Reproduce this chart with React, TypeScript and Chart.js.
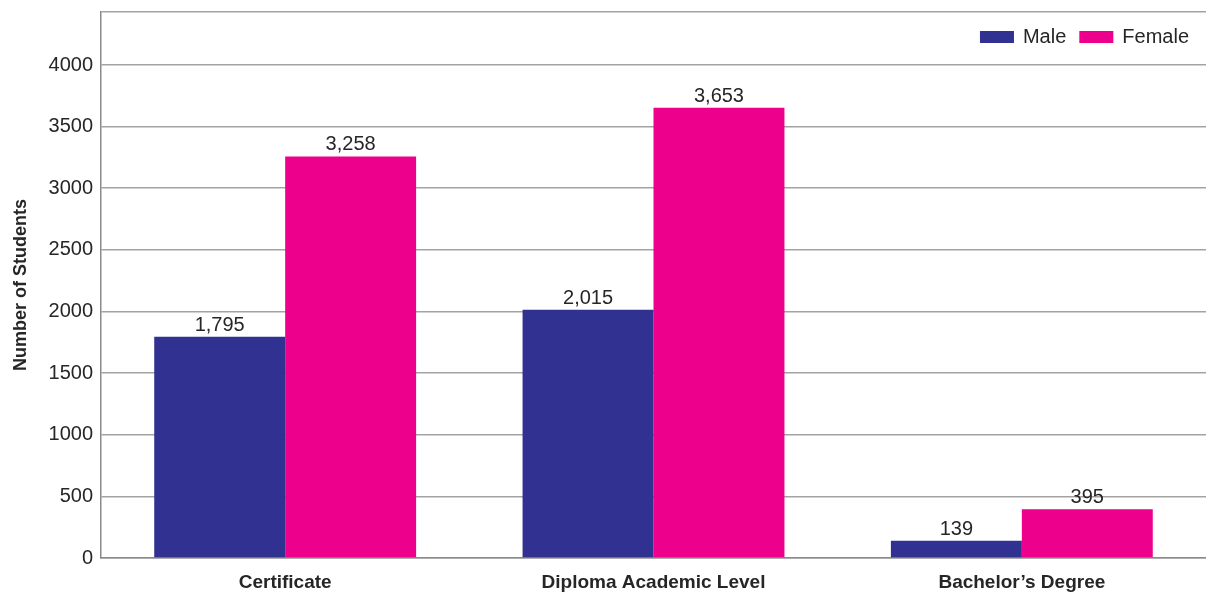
import React, { useEffect, useRef } from "react";
import { Chart, registerables } from "chart.js";

Chart.register(...registerables);

const categories = ["Certificate", "Diploma Academic Level", "Bachelor’s Degree"];
const maleValues = [1795, 2015, 139];
const femaleValues = [3258, 3653, 395];
const seriesNames = ["Male", "Female"];
const yTicks = [0, 500, 1000, 1500, 2000, 2500, 3000, 3500, 4000];
const yMax = 4430;

const FONT = '"Liberation Sans", Arial, Helvetica, sans-serif';
const TEXT = "#262626";
const MALE = "#313191";
const FEMALE = "#ec008c";

const overlayPlugin = {
  id: "overlay",
  afterDatasetsDraw(chart: any) {
    const ctx = chart.ctx;
    ctx.save();
    // value labels
    ctx.font = `20px ${FONT}`;
    ctx.fillStyle = TEXT;
    ctx.textAlign = "center";
    ctx.textBaseline = "alphabetic";
    chart.data.datasets.forEach((ds: any, di: number) => {
      const meta = chart.getDatasetMeta(di);
      meta.data.forEach((bar: any, i: number) => {
        const v = ds.data[i] as number;
        ctx.fillText(v.toLocaleString("en-US"), bar.x, bar.y - 6);
      });
    });
    // legend (top right, inside plot)
    const boxW = 34;
    const boxH = 12;
    const gap = 9;
    const itemGap = 13;
    const right = 1189;
    const baseY = 43;
    ctx.textAlign = "left";
    const items = chart.data.datasets.map((ds: any) => ({
      label: ds.label,
      color: ds.backgroundColor,
      w: ctx.measureText(ds.label).width,
    }));
    let total = 0;
    items.forEach((it: any, i: number) => {
      total += boxW + gap + it.w + (i < items.length - 1 ? itemGap : 0);
    });
    let x = right - total;
    items.forEach((it: any) => {
      ctx.fillStyle = it.color;
      ctx.fillRect(x, baseY - boxH, boxW, boxH);
      x += boxW + gap;
      ctx.fillStyle = TEXT;
      ctx.fillText(it.label, x, baseY);
      x += it.w + itemGap;
    });
    ctx.restore();
  },
};

export default function App() {
  const ref = useRef<HTMLCanvasElement | null>(null);
  useEffect(() => {
    if (!ref.current) return;
    const chart = new Chart(ref.current, {
      type: "bar",
      data: {
        labels: categories,
        datasets: [
          {
            label: seriesNames[0],
            data: maleValues,
            backgroundColor: MALE,
            categoryPercentage: 0.711,
            barPercentage: 1,
          },
          {
            label: seriesNames[1],
            data: femaleValues,
            backgroundColor: FEMALE,
            categoryPercentage: 0.711,
            barPercentage: 1,
          },
        ],
      },
      options: {
        responsive: false,
        animation: false,
        events: [],
        layout: { padding: { top: 12, right: 0, bottom: 0, left: 0 } },
        plugins: {
          legend: { display: false },
          tooltip: { enabled: false },
        },
        scales: {
          x: {
            grid: { display: false, drawTicks: false },
            border: { display: true, color: "#8a8a8a", width: 1.5 },
            ticks: {
              padding: 13,
              color: TEXT,
              font: { family: FONT, size: 19, weight: "bold" },
            },
            afterFit: (scale: any) => {
              scale.height = 38;
              scale.paddingLeft = 0;
              scale.paddingRight = 0;
            },
          },
          y: {
            min: 0,
            max: yMax,
            afterBuildTicks: (scale: any) => {
              scale.ticks = [...yTicks, yMax].map((v) => ({ value: v }));
            },
            afterFit: (scale: any) => {
              scale.width = 101;
              scale.paddingTop = 0;
              scale.paddingBottom = 0;
            },
            grid: { color: "#a3a3a3", lineWidth: 1.5, drawTicks: false },
            border: { display: true, color: "#8a8a8a", width: 1.5 },
            ticks: {
              padding: 8,
              color: TEXT,
              font: { family: FONT, size: 20 },
              callback: (v: any) => (yTicks.includes(Number(v)) ? String(v) : ""),
            },
            title: {
              display: true,
              text: "Number of Students",
              color: TEXT,
              font: { family: FONT, size: 18, weight: "bold" },
              padding: { top: 10, bottom: 0 },
            },
          },
        },
      },
      plugins: [overlayPlugin],
    });
    return () => chart.destroy();
  }, []);
  return (
    <div style={{ position: "absolute", left: 0, top: 0, width: 1206, height: 596, background: "#fff" }}>
      <canvas ref={ref} width={1206} height={596} style={{ display: "block" }} />
    </div>
  );
}
